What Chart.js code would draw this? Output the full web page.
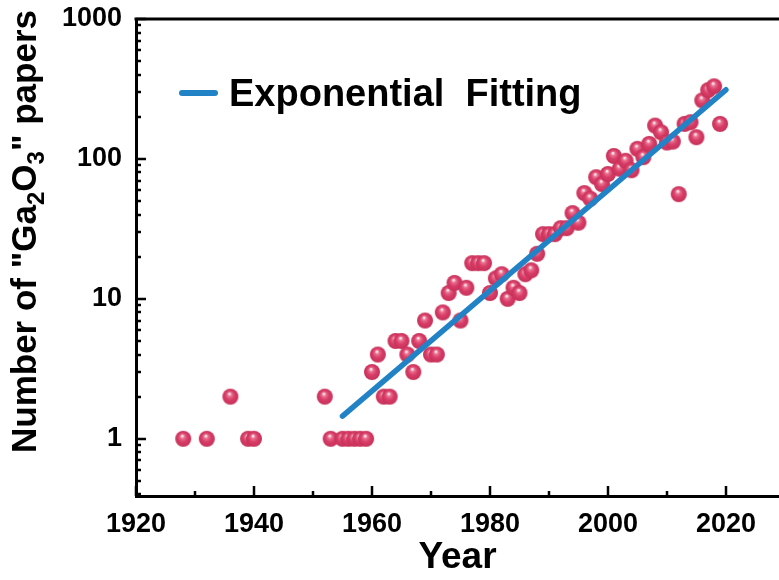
<!DOCTYPE html>
<html lang="en">
<head>
<meta charset="UTF-8">
<title>Ga2O3 papers per year</title>
<script src="https://cdn.jsdelivr.net/npm/chart.js"></script>
<style>
  body { margin: 0; background: #fff; overflow: hidden; }
  canvas { display: block; }
</style>
</head>
<body>
<canvas id="chart" width="779" height="580"></canvas>
<script>
// data
const years = [1928, 1932, 1936, 1939, 1940, 1952, 1953, 1955, 1956, 1957, 1958, 1959,
  1960, 1961, 1962, 1963, 1964, 1965, 1966, 1967, 1968, 1969,
  1970, 1971, 1972, 1973, 1974, 1975, 1976, 1977, 1978, 1979,
  1980, 1981, 1982, 1983, 1984, 1985, 1986, 1987, 1988, 1989,
  1990, 1991, 1992, 1993, 1994, 1995, 1996, 1997, 1998, 1999,
  2000, 2001, 2002, 2003, 2004, 2005, 2006, 2007, 2008, 2009,
  2010, 2011, 2012, 2013, 2014, 2015, 2016, 2017, 2018, 2019];
const papers = [1, 1, 2, 1, 1, 2, 1, 1, 1, 1, 1, 1,
  3, 4, 2, 2, 5, 5, 4, 3, 5, 7,
  4, 4, 8, 11, 13, 7, 12, 18, 18, 18,
  11, 14, 15, 10, 12, 11, 15, 16, 21, 29,
  29, 29, 32, 32, 41, 35, 57, 52, 74, 66,
  78, 105, 85, 97, 83, 118, 103, 128, 173, 155,
  131, 133, 56, 178, 183, 143, 262, 310, 330, 178];
// exponential fit (straight on log axis), end points
const fitYears = [1955, 2020];
const fitValues = [1.45, 312];

const xTicks = [1920, 1940, 1960, 1980, 2000, 2020];
const xMinor = [1930, 1950, 1970, 1990, 2010];
const yTicks = [1, 10, 100, 1000];

const FONT = '"Liberation Sans", Arial, sans-serif';

// shaded ball used as point marker
function makeBall(r) {
  const c = document.createElement('canvas');
  c.width = c.height = 2 * r + 2;
  const g = c.getContext('2d');
  const cx = r + 1, cy = r + 1;
  const grad = g.createRadialGradient(cx - 1, cy - 3, 0.5, cx, cy, r);
  grad.addColorStop(0, '#fff0f4');
  grad.addColorStop(0.22, '#e8708f');
  grad.addColorStop(0.55, '#d83d68');
  grad.addColorStop(1, '#c63058');
  g.fillStyle = grad;
  g.beginPath();
  g.arc(cx, cy, r, 0, Math.PI * 2);
  g.fill();
  return c;
}
const ball = makeBall(8);

// inward ticks, top frame, legend and y title
const decor = {
  id: 'decor',
  afterDraw(chart) {
    const ctx = chart.ctx;
    const a = chart.chartArea;
    const xs = chart.scales.x, ys = chart.scales.y;
    ctx.save();
    ctx.strokeStyle = '#000';
    ctx.lineWidth = 2.5;
    ctx.beginPath();
    // y ticks
    for (let e = -1; e <= 3; e++) {
      for (let m = 1; m <= 9; m++) {
        const v = m * Math.pow(10, e);
        if (v < ys.min || v > ys.max) continue;
        const py = Math.round(ys.getPixelForValue(v));
        const len = m === 1 ? 10 : 5;
        ctx.moveTo(a.left, py);
        ctx.lineTo(a.left + len, py);
      }
    }
    // x ticks
    xTicks.forEach(v => {
      const px = Math.round(xs.getPixelForValue(v));
      ctx.moveTo(px, a.bottom);
      ctx.lineTo(px, a.bottom - 10);
    });
    xMinor.forEach(v => {
      const px = Math.round(xs.getPixelForValue(v));
      ctx.moveTo(px, a.bottom);
      ctx.lineTo(px, a.bottom - 5);
    });
    ctx.stroke();
    // top frame
    ctx.lineWidth = 3;
    ctx.beginPath();
    ctx.moveTo(a.left - 1.5, a.top);
    ctx.lineTo(a.right, a.top);
    ctx.stroke();

    // legend
    ctx.strokeStyle = '#2182c6';
    ctx.lineWidth = 6;
    ctx.lineCap = 'round';
    ctx.beginPath();
    ctx.moveTo(182, 93);
    ctx.lineTo(215, 93);
    ctx.stroke();
    ctx.fillStyle = '#000';
    ctx.font = 'bold 38px ' + FONT;
    ctx.textBaseline = 'alphabetic';
    ctx.fillText('Exponential  Fitting', 229, 106);

    // y title with subscripts
    ctx.translate(36, 453);
    ctx.rotate(-Math.PI / 2);
    const parts = [['Number of "Ga', 0], ['2', 1], ['O', 0], ['3', 1], ['" papers', 0]];
    let x = 0;
    parts.forEach(([t, sub]) => {
      ctx.font = (sub ? 'bold 24px ' : 'bold 35px ') + FONT;
      ctx.fillText(t, x, sub ? 8 : 0);
      x += ctx.measureText(t).width;
    });
    ctx.restore();
  }
};

new Chart(document.getElementById('chart'), {
  data: {
    datasets: [
      {
        type: 'line',
        label: 'Exponential  Fitting',
        data: fitYears.map((y, i) => ({ x: y, y: fitValues[i] })),
        borderColor: '#2182c6',
        borderWidth: 5.5,
        borderCapStyle: 'round',
        pointRadius: 0,
        fill: false
      },
      {
        type: 'scatter',
        label: 'papers',
        data: years.map((y, i) => ({ x: y, y: papers[i] })),
        pointStyle: ball,
        pointRadius: 8,
        pointHoverRadius: 8
      }
    ]
  },
  options: {
    responsive: false,
    animation: false,
    devicePixelRatio: 1,
    layout: { autoPadding: false, padding: { top: 19, right: 0, left: 0, bottom: 0 } },
    plugins: { legend: { display: false }, tooltip: { enabled: false } },
    scales: {
      x: {
        type: 'linear',
        min: 1920,
        max: 2029,
        afterBuildTicks: s => { s.ticks = xTicks.map(v => ({ value: v })); },
        afterFit: s => { s.height = 84; s.paddingLeft = 0; s.paddingRight = 0; },
        grid: { display: false, drawTicks: false },
        border: { display: true, color: '#000', width: 3 },
        ticks: {
          padding: 12,
          color: '#000',
          font: { family: FONT, size: 27, weight: 'bold' },
          maxRotation: 0,
          callback: v => String(v)
        },
        title: {
          display: true,
          text: 'Year',
          color: '#000',
          font: { family: FONT, size: 37, weight: 'bold' },
          padding: 0
        }
      },
      y: {
        type: 'logarithmic',
        min: 0.39,
        max: 1000,
        afterBuildTicks: s => { s.ticks = yTicks.map(v => ({ value: v })); },
        afterFit: s => { s.width = 136; s.paddingTop = 0; s.paddingBottom = 0; },
        grid: { display: false, drawTicks: false },
        border: { display: true, color: '#000', width: 3 },
        ticks: {
          padding: 14,
          color: '#000',
          font: { family: FONT, size: 27, weight: 'bold' },
          callback: v => String(v)
        }
      }
    }
  },
  plugins: [decor]
});
</script>
</body>
</html>
